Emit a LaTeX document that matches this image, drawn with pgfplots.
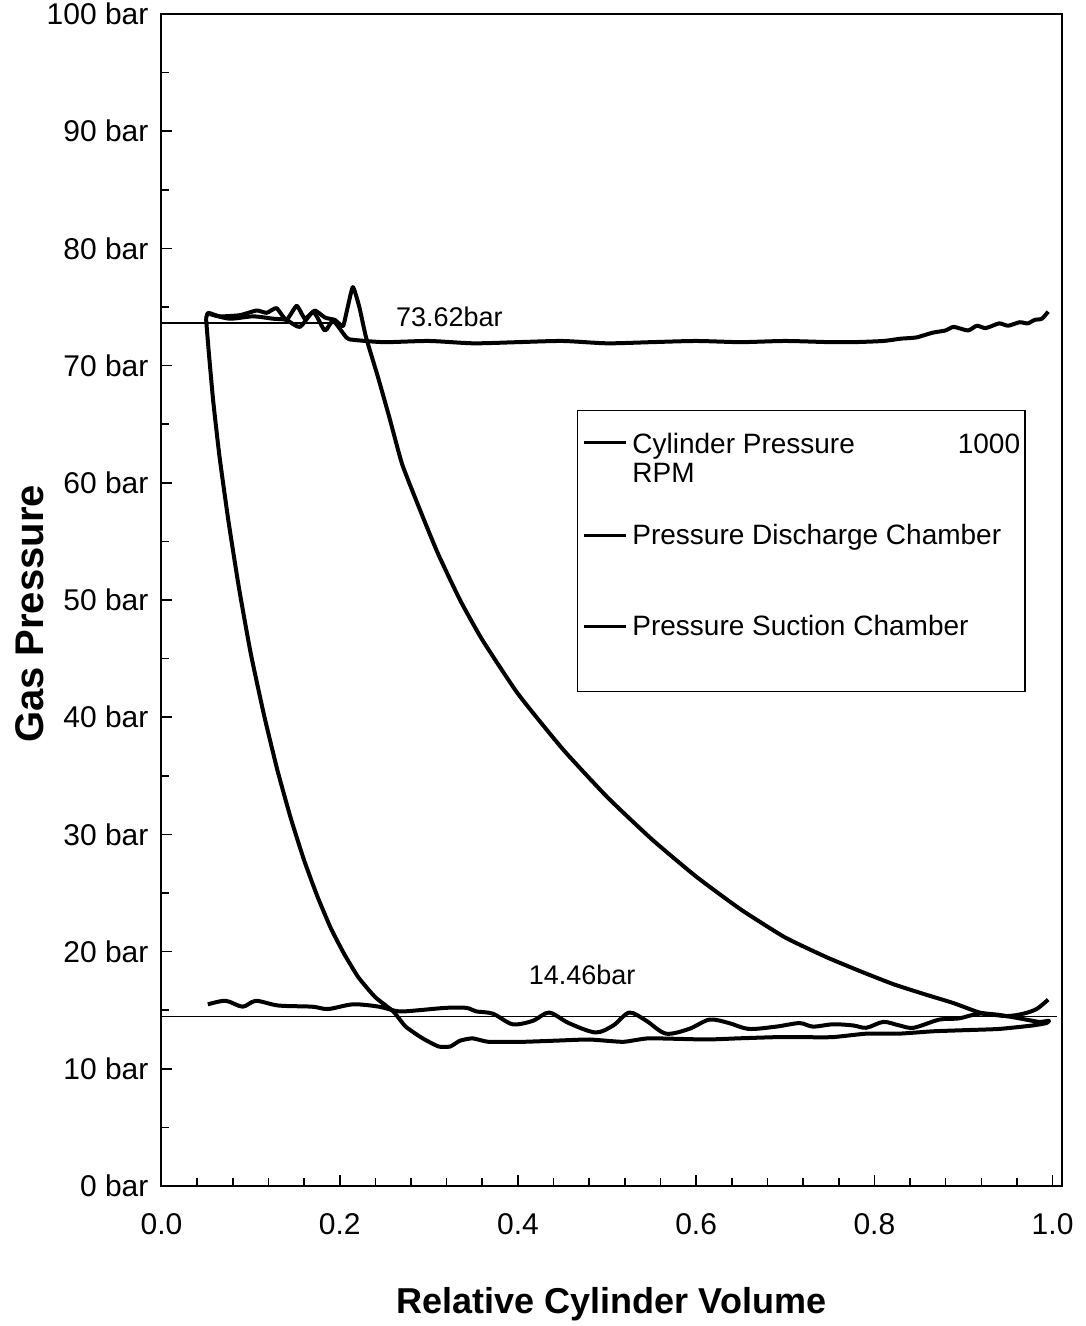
\documentclass[border=0pt]{standalone}
\usepackage{fontspec}
\setmainfont{Liberation Sans}
\usepackage{pgfplots}
\pgfplotsset{compat=1.18}

\pgfplotstableread{
x y
0.050 74.0
0.053 71.2
0.058 67.0
0.065 62.3
0.075 56.8
0.087 51.0
0.100 45.5
0.115 40.2
0.130 35.5
0.145 31.4
0.160 27.8
0.175 24.7
0.190 22.0
0.205 19.8
0.221 17.8
0.240 16.1
0.260 14.9
0.274 13.6
0.293 12.6
0.311 11.9
0.324 11.9
0.335 12.4
0.349 12.6
0.367 12.3
0.405 12.3
0.442 12.4
0.480 12.5
0.518 12.3
0.547 12.6
0.611 12.5
0.648 12.6
0.690 12.7
0.715 12.7
0.753 12.7
0.791 13.0
0.828 13.0
0.866 13.2
0.903 13.3
0.940 13.4
0.978 13.7
0.993 13.9
0.996 14.1
0.985 14.0
0.963 14.3
0.940 14.6
0.918 14.8
0.889 15.6
0.859 16.3
0.822 17.2
0.785 18.3
0.747 19.5
0.700 21.2
0.650 23.6
0.600 26.4
0.550 29.6
0.500 33.2
0.450 37.3
0.400 42.0
0.360 46.6
0.335 50.0
0.310 54.0
0.290 57.7
0.270 61.6
0.256 65.5
0.243 69.0
0.2296 72.4
0.222 75.0
0.2148 76.7
0.2090 75.0
0.2040 73.4
0.1990 73.6
0.1945 73.9
0.1834 74.1
0.172 74.7
0.161 74.0
0.1517 75.1
0.1402 73.9
0.129 74.9
0.118 74.5
0.1067 74.7
0.0878 74.3
0.0655 74.2
0.0524 74.5
0.050 74.0
}\cylinder

\pgfplotstableread{
x y
0.0541 74.4
0.0765 74.0
0.1028 74.2
0.1253 74.0
0.140 73.9
0.1552 73.3
0.1704 74.55
0.1833 73.0
0.1927 73.8
0.2075 72.4
0.2150 72.2
0.25 72.0
0.30 72.1
0.35 71.9
0.40 72.0
0.45 72.1
0.50 71.9
0.55 72.0
0.60 72.1
0.65 72.0
0.70 72.1
0.75 72.0
0.777 72.0
0.81 72.1
0.83 72.3
0.847 72.4
0.865 72.8
0.88 73.0
0.889 73.3
0.905 73.0
0.915 73.4
0.925 73.2
0.94 73.6
0.95 73.4
0.963 73.7
0.972 73.6
0.98 73.9
0.988 74.0
0.995 74.6
}\discharge

\pgfplotstableread{
x y
0.052 15.5
0.072 15.8
0.091 15.3
0.106 15.8
0.131 15.4
0.169 15.3
0.187 15.1
0.215 15.5
0.244 15.3
0.266 14.9
0.289 15.0
0.319 15.2
0.342 15.2
0.353 14.9
0.372 14.7
0.394 13.8
0.417 14.1
0.435 14.8
0.457 13.9
0.487 13.1
0.507 13.7
0.525 14.8
0.544 14.1
0.566 13.0
0.592 13.4
0.615 14.2
0.637 13.9
0.659 13.4
0.690 13.6
0.716 13.9
0.731 13.6
0.754 13.8
0.776 13.7
0.791 13.5
0.810 14.0
0.828 13.7
0.844 13.5
0.873 14.2
0.895 14.3
0.918 14.7
0.948 14.5
0.967 14.7
0.982 15.1
0.995 15.9
}\suction

\begin{document}
\begin{tikzpicture}
\begin{axis}[
  scale only axis, width=450pt, height=586pt,
  xmin=0, xmax=1.01, ymin=0, ymax=100,
  axis line style={line width=1pt},
  tick pos=left, tick align=inside,
  xtick={0,0.2,0.4,0.6,0.8,1.0},
  xticklabels={0.0,0.2,0.4,0.6,0.8,1.0},
  minor x tick num=4,
  ytick={0,10,20,30,40,50,60,70,80,90,100},
  yticklabels={0 bar,10 bar,20 bar,30 bar,40 bar,50 bar,60 bar,70 bar,80 bar,90 bar,100 bar},
  minor y tick num=1,
  major tick length=5.5pt, minor tick length=4pt,
  tick style={black, line width=0.8pt},
  tick label style={font=\fontsize{15}{17}\selectfont},
  xticklabel style={yshift=-10pt},
  yticklabel style={xshift=-3pt},
  clip=false,
]
\addplot[black, line width=0.75pt, mark=none] coordinates {(0,73.62) (0.196,73.62)};
\addplot[black, line width=0.75pt, mark=none] coordinates {(0,14.46) (1.005,14.46)};
\addplot[black, line width=2pt, mark=none, line join=round, smooth, tension=0.3] table[x=x,y=y] {\cylinder};
\addplot[black, line width=2pt, mark=none, line join=round, smooth, tension=0.4] table[x=x,y=y] {\discharge};
\addplot[black, line width=2pt, mark=none, line join=round, smooth, tension=0.5] table[x=x,y=y] {\suction};

\node[font=\fontsize{13.5}{16}\selectfont] at (axis cs:0.323,74.2) {73.62bar};
\node[font=\fontsize{13.5}{16}\selectfont] at (axis cs:0.472,18.0) {14.46bar};

% legend
\draw[line width=0.6pt] (axis cs:0.467,66.2) rectangle (axis cs:0.969,42.2);
\draw[line width=1.5pt] (axis cs:0.474,63.4) -- (axis cs:0.521,63.4);
\draw[line width=1.5pt] (axis cs:0.474,55.5) -- (axis cs:0.521,55.5);
\draw[line width=1.5pt] (axis cs:0.474,47.7) -- (axis cs:0.521,47.7);
\node[anchor=base west, inner sep=0pt, font=\fontsize{14}{16}\selectfont] at (axis cs:0.528,62.5) {Cylinder Pressure};
\node[anchor=base east, inner sep=0pt, font=\fontsize{14}{16}\selectfont] at (axis cs:0.964,62.5) {1000};
\node[anchor=base west, inner sep=0pt, font=\fontsize{14}{16}\selectfont] at (axis cs:0.528,60.0) {RPM};
\node[anchor=base west, inner sep=0pt, font=\fontsize{14}{16}\selectfont] at (axis cs:0.528,54.7) {Pressure Discharge Chamber};
\node[anchor=base west, inner sep=0pt, font=\fontsize{14}{16}\selectfont] at (axis cs:0.528,47.0) {Pressure Suction Chamber};

\coordinate (BL) at (rel axis cs:0,0);
\coordinate (TR) at (rel axis cs:1,1);
\coordinate (L) at (rel axis cs:0,0.5);
\coordinate (B) at (rel axis cs:0.5,0);
\end{axis}
\node[rotate=90, anchor=base, inner sep=0pt, font=\bfseries\fontsize{20}{23}\selectfont] at ([xshift=-59pt,yshift=-7pt]L) {Gas Pressure};
\node[anchor=base, inner sep=0pt, font=\bfseries\fontsize{18}{21}\selectfont] at ([yshift=-63.5pt]B) {Relative Cylinder Volume};
\pgfresetboundingbox
\useasboundingbox ([xshift=-80.75pt,yshift=-70pt]BL) rectangle ([xshift=12pt,yshift=7pt]TR);
\end{tikzpicture}
\end{document}
